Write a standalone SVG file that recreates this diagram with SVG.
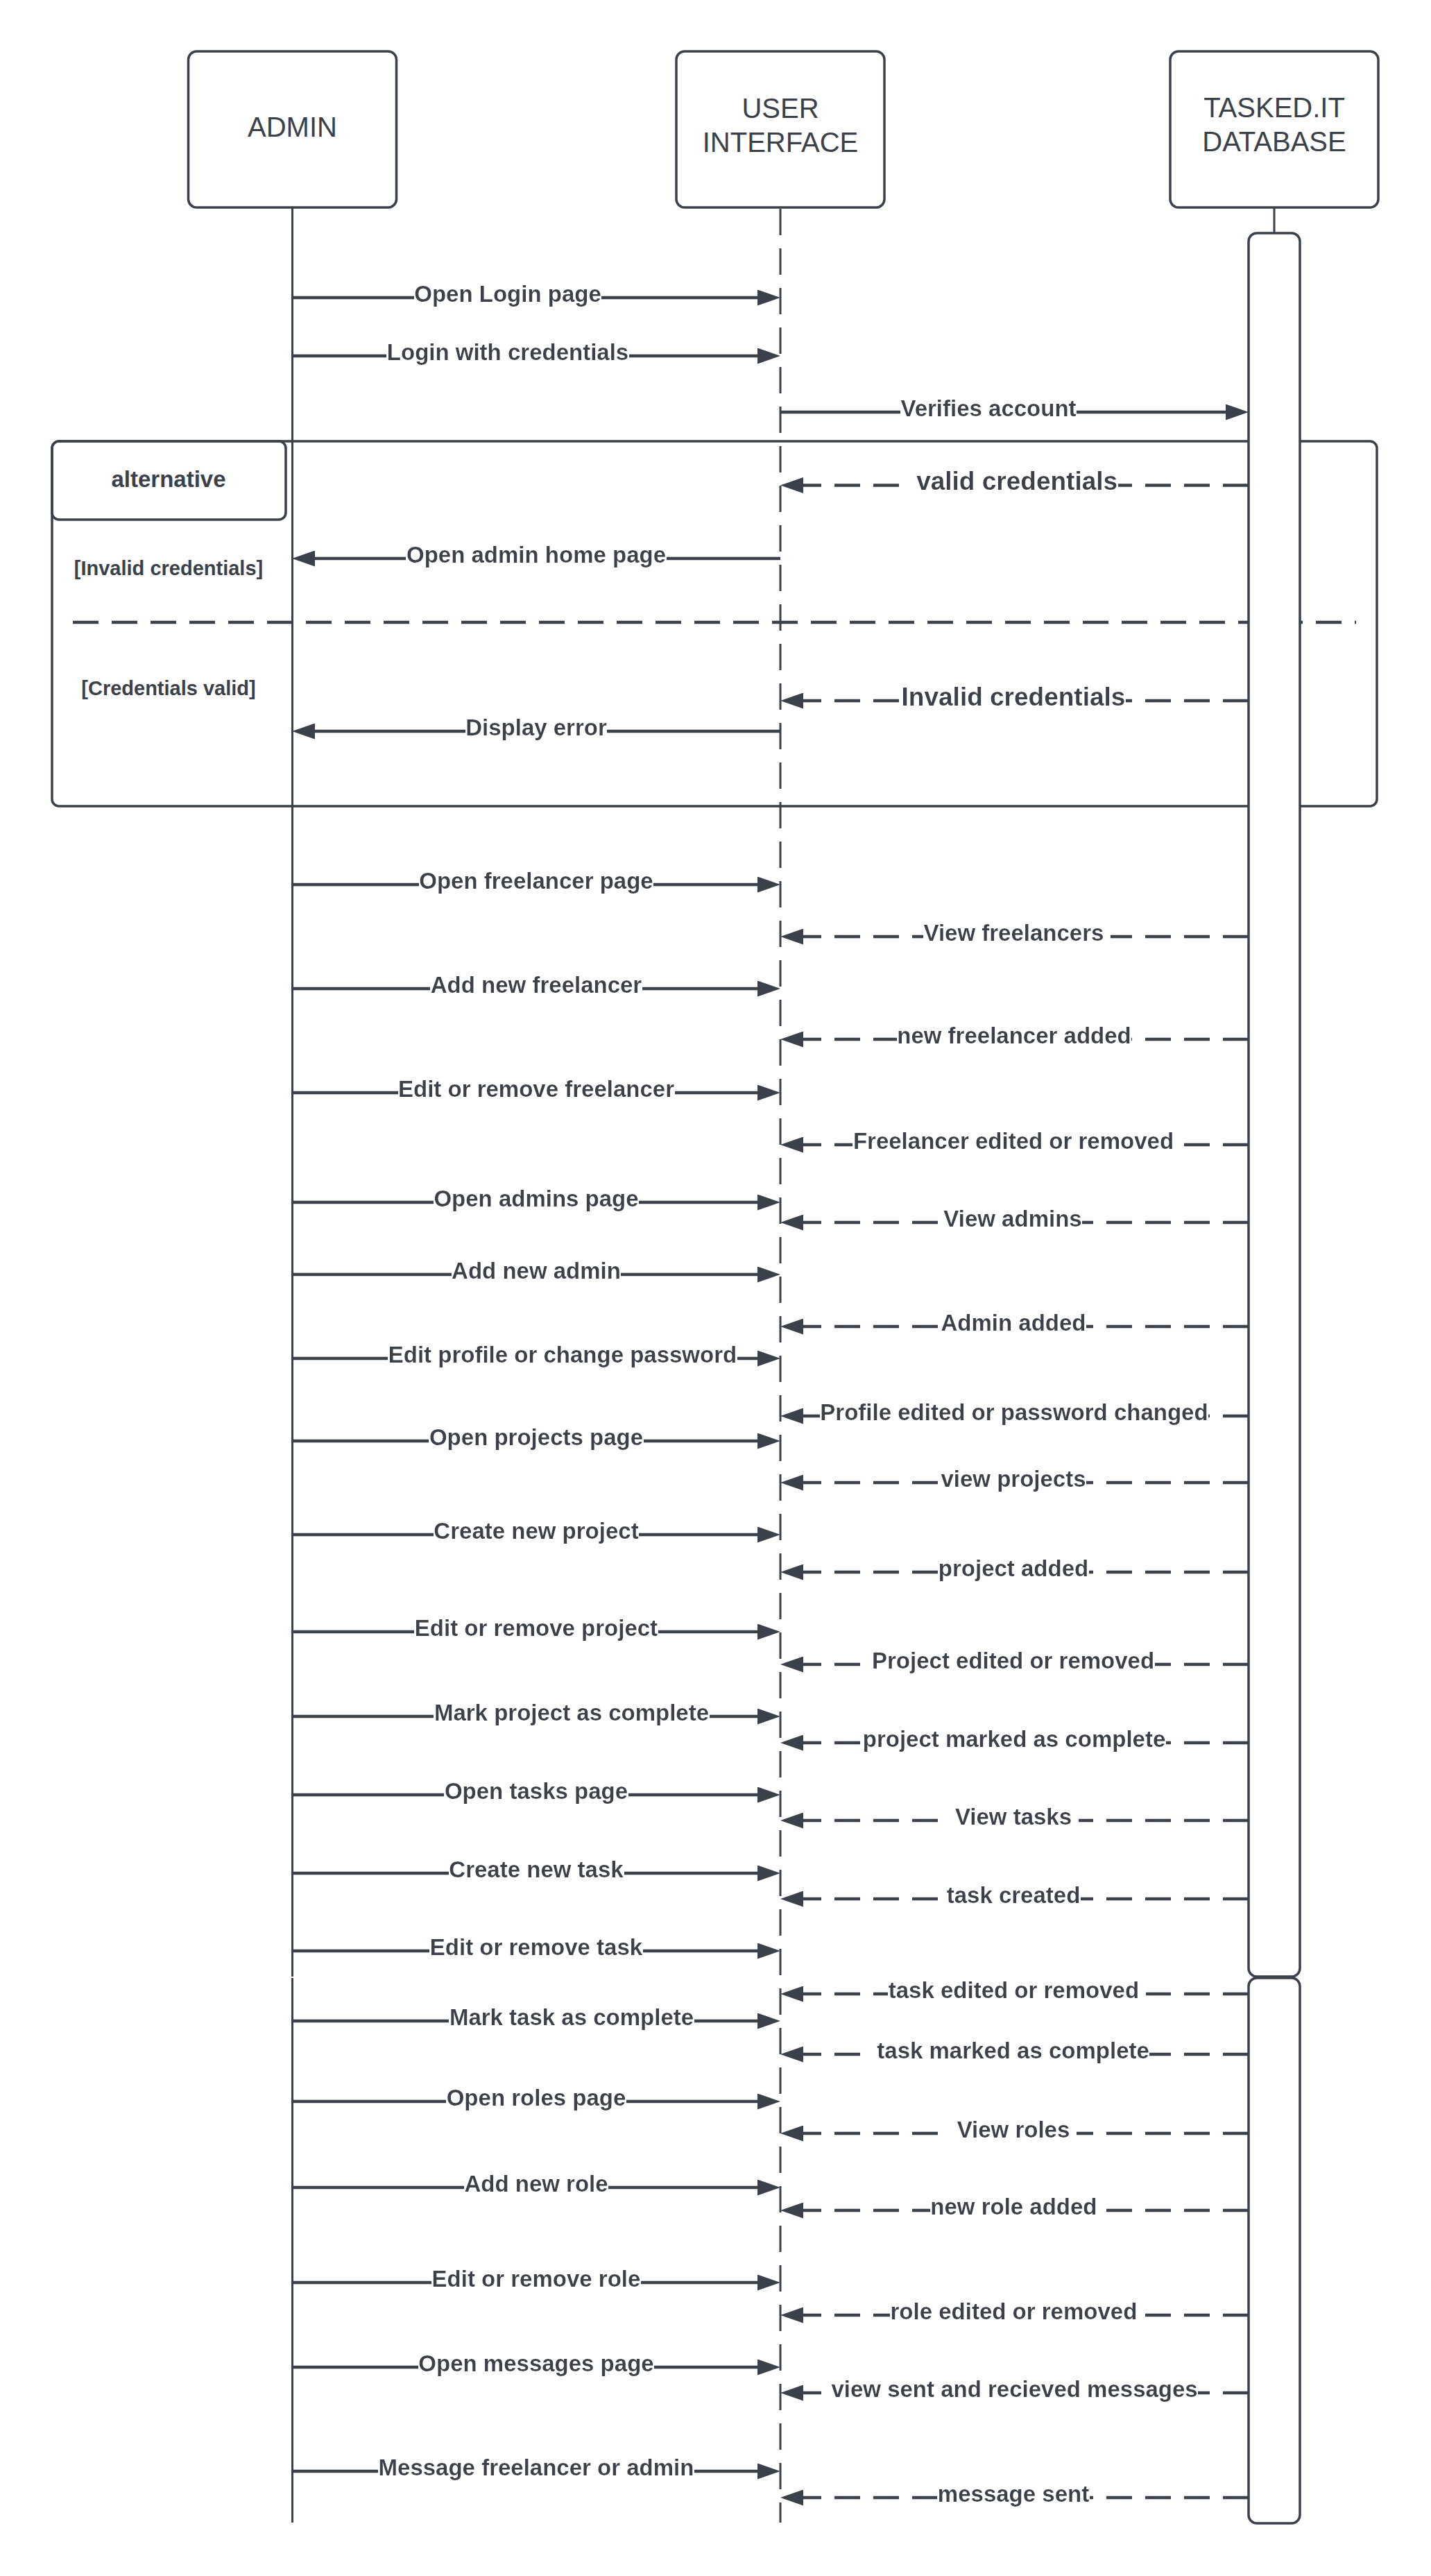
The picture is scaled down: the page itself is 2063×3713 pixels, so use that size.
<svg xmlns="http://www.w3.org/2000/svg" width="2063" height="3713" viewBox="0 0 2063 3713">
  <style>
    .box { fill: #fff; stroke: #3a414a; stroke-width: 3.5; }
    .frame { fill: none; stroke: #3a414a; stroke-width: 3.5; }
    .life { stroke: #3a414a; stroke-width: 3; fill: none; }
    .life-d { stroke: #3a414a; stroke-width: 3; fill: none; stroke-dasharray: 38 19; }
    .sep { stroke: #3a414a; stroke-width: 4.5; stroke-dasharray: 37 19; }
    .msg { stroke: #3a414a; stroke-width: 4.5; fill: none; marker-end: url(#ah); }
    .ret { stroke: #3a414a; stroke-width: 4.5; fill: none; stroke-dasharray: 37 19; marker-end: url(#ah); }
    .pt { font-family: "Liberation Sans", Arial, sans-serif; font-size: 40px; fill: #3a414a; text-anchor: middle; }
    .lb { font-family: "Liberation Sans", Arial, sans-serif; font-size: 33px; font-weight: bold; fill: #3a414a; text-anchor: middle; filter: url(#bg); }
    .lb-l { font-family: "Liberation Sans", Arial, sans-serif; font-size: 37px; font-weight: bold; fill: #3a414a; text-anchor: middle; filter: url(#bg); }
    .gd { font-family: "Liberation Sans", Arial, sans-serif; font-size: 29px; font-weight: bold; fill: #3a414a; text-anchor: middle; }
    .ft { font-family: "Liberation Sans", Arial, sans-serif; font-size: 33px; font-weight: bold; fill: #3a414a; text-anchor: middle; }
  </style>
  <defs>
    <marker id="ah" viewBox="0 0 33 23" refX="23" refY="11.5" markerWidth="33" markerHeight="23" markerUnits="userSpaceOnUse" orient="auto">
      <path d="M0,0 L33,11.5 L0,23 Z" fill="#3a414a"/>
    </marker>
    <!-- white plate behind message labels -->
    <filter id="bg" x="0" y="0" width="1" height="1">
      <feFlood flood-color="#ffffff"/>
      <feComposite in="SourceGraphic" operator="over"/>
    </filter>
  </defs>

  <rect width="2063" height="3713" fill="#fff"/>

  <!-- alternative combined fragment -->
  <g id="alt-frame">
    <rect class="frame" x="75" y="636" width="1910" height="526" rx="10"/>
    <rect class="frame" x="75" y="636" width="337" height="113" rx="10"/>
    <text class="ft" x="243" y="702">alternative</text>
    <line class="sep" x1="105" y1="897" x2="1955" y2="897"/>
    <text class="gd" x="243" y="829">[Invalid credentials]</text>
    <text class="gd" x="243" y="1002">[Credentials valid]</text>
  </g>

  <!-- participants -->
  <g id="admin">
    <rect class="box" x="271.5" y="74" width="300" height="225" rx="12"/>
    <text class="pt" x="421.5" y="197">ADMIN</text>
    <line class="life" x1="421.5" y1="299" x2="421.5" y2="2849"/>
    <line class="life" x1="421.5" y1="2851" x2="421.5" y2="3636"/>
  </g>
  <g id="user-interface">
    <rect class="box" x="975" y="74" width="300" height="225" rx="12"/>
    <text class="pt" x="1125" y="170">USER</text>
    <text class="pt" x="1125" y="219">INTERFACE</text>
    <line class="life-d" x1="1125" y1="301" x2="1125" y2="3636"/>
  </g>
  <g id="database">
    <rect class="box" x="1687" y="74" width="300" height="225" rx="12"/>
    <text class="pt" x="1837" y="169">TASKED.IT</text>
    <text class="pt" x="1837" y="218">DATABASE</text>
    <line class="life" x1="1837" y1="299" x2="1837" y2="336"/>
    <rect class="box" x="1800" y="336" width="74" height="2513" rx="12"/>
    <rect class="box" x="1800" y="2851" width="74" height="786" rx="12"/>
  </g>

  <!-- messages -->
  <g id="connectors">
    <!-- login -->
    <line class="msg" x1="423" y1="429" x2="1115" y2="429"/>
    <text class="lb" x="732" y="435">Open Login page</text>
    <line class="msg" x1="423" y1="513" x2="1115" y2="513"/>
    <text class="lb" x="732" y="519">Login with credentials</text>
    <line class="msg" x1="1125" y1="594" x2="1790" y2="594"/>
    <text class="lb" x="1425" y="600">Verifies account</text>

    <!-- alternative branches -->
    <line class="ret" x1="1800" y1="699.5" x2="1135" y2="699.5"/>
    <text class="lb-l" x="1461" y="706" xml:space="preserve"> valid credentials</text>
    <line class="msg" x1="1125" y1="805" x2="431" y2="805"/>
    <text class="lb" x="773" y="811">Open admin home page</text>
    <line class="ret" x1="1800" y1="1010" x2="1135" y2="1010"/>
    <text class="lb-l" x="1461" y="1017">Invalid credentials</text>
    <line class="msg" x1="1125" y1="1054" x2="431" y2="1054"/>
    <text class="lb" x="773" y="1060">Display error</text>

    <!-- freelancers -->
    <line class="msg" x1="423" y1="1275" x2="1115" y2="1275"/>
    <text class="lb" x="773" y="1281">Open freelancer page</text>
    <line class="ret" x1="1800" y1="1350" x2="1135" y2="1350"/>
    <text class="lb" x="1466" y="1356" xml:space="preserve">View freelancers </text>
    <line class="msg" x1="423" y1="1425" x2="1115" y2="1425"/>
    <text class="lb" x="773" y="1431">Add new freelancer</text>
    <line class="ret" x1="1800" y1="1498" x2="1135" y2="1498"/>
    <text class="lb" x="1462" y="1504">new freelancer added</text>
    <line class="msg" x1="423" y1="1575" x2="1115" y2="1575"/>
    <text class="lb" x="773" y="1581">Edit or remove freelancer</text>
    <line class="ret" x1="1800" y1="1650" x2="1135" y2="1650"/>
    <text class="lb" x="1461" y="1656">Freelancer edited or removed</text>

    <!-- admins -->
    <line class="msg" x1="423" y1="1733" x2="1115" y2="1733"/>
    <text class="lb" x="773" y="1739">Open admins page</text>
    <line class="ret" x1="1800" y1="1762" x2="1135" y2="1762"/>
    <text class="lb" x="1460" y="1768">View admins</text>
    <line class="msg" x1="423" y1="1837" x2="1115" y2="1837"/>
    <text class="lb" x="773" y="1843">Add new admin</text>
    <line class="ret" x1="1800" y1="1912" x2="1135" y2="1912"/>
    <text class="lb" x="1461" y="1918">Admin added</text>
    <line class="msg" x1="423" y1="1958" x2="1115" y2="1958"/>
    <text class="lb" x="811" y="1964">Edit profile or change password</text>
    <line class="ret" x1="1800" y1="2041" x2="1135" y2="2041"/>
    <text class="lb" x="1462" y="2047">Profile edited or password changed</text>

    <!-- projects -->
    <line class="msg" x1="423" y1="2077" x2="1115" y2="2077"/>
    <text class="lb" x="773" y="2083">Open projects page</text>
    <line class="ret" x1="1800" y1="2137" x2="1135" y2="2137"/>
    <text class="lb" x="1461" y="2143">view projects</text>
    <line class="msg" x1="423" y1="2212" x2="1115" y2="2212"/>
    <text class="lb" x="773" y="2218">Create new project</text>
    <line class="ret" x1="1800" y1="2266" x2="1135" y2="2266"/>
    <text class="lb" x="1461" y="2272">project added</text>
    <line class="msg" x1="423" y1="2352" x2="1115" y2="2352"/>
    <text class="lb" x="773" y="2358">Edit or remove project</text>
    <line class="ret" x1="1800" y1="2399" x2="1135" y2="2399"/>
    <text class="lb" x="1456" y="2405" xml:space="preserve"> Project edited or removed</text>
    <line class="msg" x1="423" y1="2474" x2="1115" y2="2474"/>
    <text class="lb" x="824" y="2480">Mark project as complete</text>
    <line class="ret" x1="1800" y1="2512" x2="1135" y2="2512"/>
    <text class="lb" x="1462" y="2518">project marked as complete</text>

    <!-- tasks -->
    <line class="msg" x1="423" y1="2587" x2="1115" y2="2587"/>
    <text class="lb" x="773" y="2593">Open tasks page</text>
    <line class="ret" x1="1800" y1="2624" x2="1135" y2="2624"/>
    <text class="lb" x="1461" y="2630" xml:space="preserve"> View tasks </text>
    <line class="msg" x1="423" y1="2700" x2="1115" y2="2700"/>
    <text class="lb" x="773" y="2706">Create new task</text>
    <line class="ret" x1="1800" y1="2737" x2="1135" y2="2737"/>
    <text class="lb" x="1461" y="2743">task created</text>
    <line class="msg" x1="423" y1="2812" x2="1115" y2="2812"/>
    <text class="lb" x="773" y="2818">Edit or remove task</text>
    <line class="ret" x1="1800" y1="2874" x2="1135" y2="2874"/>
    <text class="lb" x="1466" y="2880" xml:space="preserve">task edited or removed </text>
    <line class="msg" x1="423" y1="2913" x2="1115" y2="2913"/>
    <text class="lb" x="824" y="2919">Mark task as complete</text>
    <line class="ret" x1="1800" y1="2961" x2="1135" y2="2961"/>
    <text class="lb" x="1456" y="2967" xml:space="preserve"> task marked as complete</text>

    <!-- roles -->
    <line class="msg" x1="423" y1="3029" x2="1115" y2="3029"/>
    <text class="lb" x="773" y="3035">Open roles page</text>
    <line class="ret" x1="1800" y1="3075" x2="1135" y2="3075"/>
    <text class="lb" x="1461" y="3081" xml:space="preserve"> View roles </text>
    <line class="msg" x1="423" y1="3153" x2="1115" y2="3153"/>
    <text class="lb" x="773" y="3159">Add new role</text>
    <line class="ret" x1="1800" y1="3186" x2="1135" y2="3186"/>
    <text class="lb" x="1466" y="3192" xml:space="preserve">new role added </text>
    <line class="msg" x1="423" y1="3290" x2="1115" y2="3290"/>
    <text class="lb" x="773" y="3296">Edit or remove role</text>
    <line class="ret" x1="1800" y1="3337" x2="1135" y2="3337"/>
    <text class="lb" x="1466" y="3343" xml:space="preserve">role edited or removed </text>

    <!-- messages -->
    <line class="msg" x1="423" y1="3412" x2="1115" y2="3412"/>
    <text class="lb" x="773" y="3418">Open messages page</text>
    <line class="ret" x1="1800" y1="3449" x2="1135" y2="3449"/>
    <text class="lb" x="1458" y="3455" xml:space="preserve"> view sent and recieved messages</text>
    <line class="msg" x1="423" y1="3562" x2="1115" y2="3562"/>
    <text class="lb" x="773" y="3568">Message freelancer or admin</text>
    <line class="ret" x1="1800" y1="3600" x2="1135" y2="3600"/>
    <text class="lb" x="1461" y="3606">message sent</text>
  </g>
</svg>
